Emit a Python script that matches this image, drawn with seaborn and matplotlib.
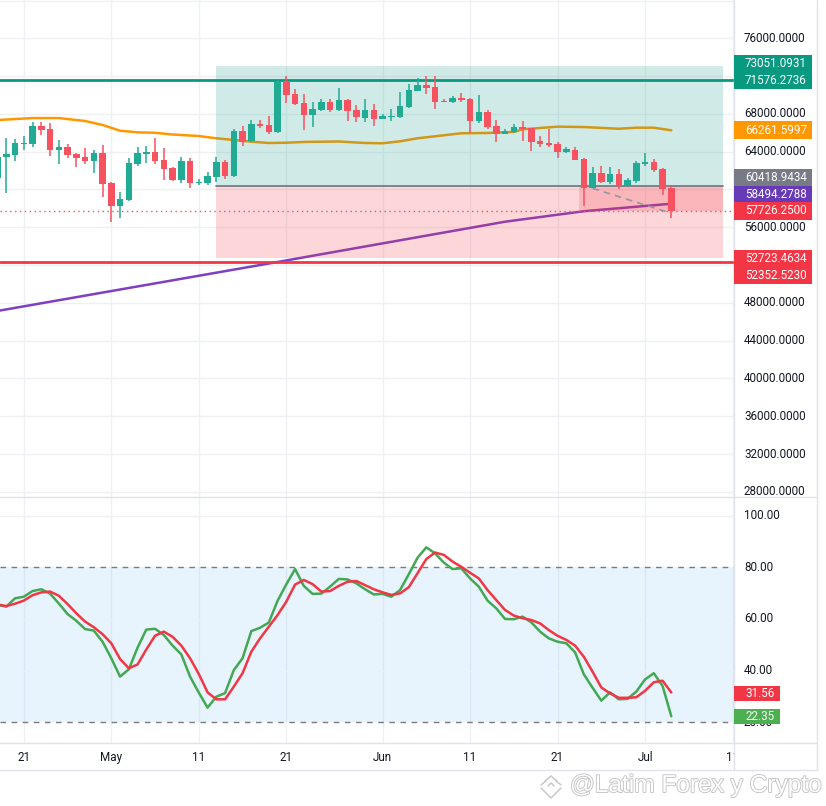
import numpy as np
import pandas as pd
import matplotlib
matplotlib.use("Agg")
import matplotlib.pyplot as plt
import matplotlib.dates as mdates
import matplotlib.patheffects as pe_
from matplotlib.patches import Rectangle
from matplotlib.lines import Line2D
import seaborn as sns

# ---------------- data ----------------
start_date = "2024-04-18"
end_date = "2024-07-04"

opens = [61185, 63408, 63683, 64847, 64847, 66720, 66402, 64212, 64529, 63757,
         63439, 63048, 63863, 60688, 58286, 58921, 62730, 63789, 63968, 63122,
         62275, 61037, 63016, 60720, 60720, 61355, 62910, 61429, 66191, 65101,
         66963, 66825, 66085, 71482, 70106, 69154, 67915, 68445, 69259, 68413,
         69471, 68413, 67598, 68413, 67492, 67704, 67672, 68730, 70455, 71058,
         70847, 69397, 69291, 69683, 69577, 67281, 68201, 66720, 65905, 66085,
         66614, 66508, 65164, 64953, 64815, 63968, 64180, 63228, 60191, 61746,
         60794, 61640, 60370, 60900, 62699, 62910, 62169, 60159]
closes = [63471, 63757, 64921, 64921, 66720, 66328, 64212, 64466, 63683, 63365,
          63048, 63863, 60614, 58286, 58995, 62836, 63863, 63968, 63016, 62169,
          61037, 63016, 60720, 60794, 61429, 62910, 61429, 66191, 65058, 66963,
          66751, 66085, 71513, 70032, 69079, 67915, 68519, 69259, 68413, 69471,
          68307, 67640, 68413, 67460, 67778, 67778, 68836, 70529, 71058, 70773,
          69291, 69291, 69683, 69503, 67249, 68201, 66646, 65905, 66222, 66614,
          66434, 65058, 64847, 64709, 63968, 64254, 63154, 60191, 61746, 60826,
          61640, 60370, 61005, 62805, 62910, 62095, 60085, 57726]
highs = [63900, 65418, 65312, 65661, 67111, 67143, 67005, 65238, 64815, 63894,
         64423, 64180, 64741, 60826, 59767, 63302, 64497, 64635, 65418, 64392,
         62349, 63408, 63333, 61111, 61852, 63408, 63122, 66371, 66720, 67355,
         67355, 67810, 71587, 72011, 70635, 70106, 69291, 69577, 69577, 70741,
         69577, 68942, 69577, 69048, 67958, 68519, 70349, 71132, 71799, 72011,
         72011, 69609, 69894, 70212, 69700, 70000, 68413, 67355, 66402, 66931,
         67249, 66508, 65661, 66434, 65058, 64466, 64466, 63333, 62381, 62487,
         62381, 62169, 61185, 63016, 63863, 63228, 62307, 60445]
lows = [60500, 59598, 63048, 64212, 64529, 65799, 63577, 62730, 63365, 62413,
        62667, 61778, 59175, 56593, 57016, 58815, 62487, 62805, 62667, 61005,
        60900, 60656, 60191, 60508, 60508, 60826, 61143, 61323, 64635, 64995,
        66540, 65873, 66011, 69185, 68910, 66296, 66646, 68307, 68233, 68339,
        67281, 67175, 67175, 66751, 67429, 67249, 67598, 68656, 70423, 70138,
        68550, 69228, 69185, 69228, 65979, 67005, 66371, 65058, 65873, 65979,
        65132, 64106, 64529, 64529, 63365, 63894, 63122, 58254, 60127, 60688,
        60614, 60053, 60339, 60720, 62487, 61884, 59450, 57016]

stoch_k = [65.4, 64.8, 68.0, 68.6, 70.8, 71.5, 69.8, 66.0, 61.9, 59.3,
           56.1, 55.5, 51.2, 44.8, 37.7, 40.5, 48.9, 55.9, 56.2, 53.8,
           49.7, 46.3, 37.7, 31.5, 25.7, 29.9, 31.3, 40.2, 44.8, 55.3,
           56.6, 58.6, 67.0, 73.4, 79.3, 72.8, 69.7, 69.8, 72.5, 75.5,
           75.3, 73.8, 71.5, 69.5, 69.7, 68.6, 71.2, 77.3, 83.7, 87.7,
           85.4, 81.8, 79.3, 79.6, 75.7, 72.5, 67.1, 64.1, 60.0, 59.9,
           60.9, 58.7, 55.1, 52.5, 51.2, 50.6, 47.1, 38.6, 33.4, 28.4,
           31.6, 28.9, 29.1, 31.9, 36.6, 39.0, 34.1, 22.35]
stoch_d = [65.6, 65.0, 65.9, 67.1, 69.2, 70.3, 70.6, 69.0, 65.8, 62.2,
           59.0, 56.8, 54.1, 50.6, 44.5, 40.9, 42.4, 48.2, 53.5, 55.1,
           53.1, 49.7, 44.8, 38.7, 31.6, 28.9, 28.9, 33.8, 39.0, 47.3,
           52.5, 57.0, 61.5, 66.7, 73.3, 75.1, 73.5, 70.6, 70.8, 72.8,
           74.4, 74.7, 73.1, 71.5, 70.3, 69.3, 69.9, 72.3, 77.7, 83.2,
           85.7, 84.8, 82.2, 80.2, 77.9, 75.7, 71.2, 67.3, 63.5, 61.3,
           60.3, 59.6, 58.3, 55.7, 53.5, 51.9, 49.7, 45.4, 39.6, 33.5,
           31.2, 29.5, 29.5, 29.7, 32.2, 35.5, 36.1, 31.56]

ma50_dates = ["2024-04-18", "2024-04-22", "2024-04-25", "2024-04-28", "2024-04-30",
              "2024-05-02", "2024-05-04", "2024-05-06", "2024-05-08", "2024-05-11",
              "2024-05-13", "2024-05-15", "2024-05-17", "2024-05-19", "2024-05-21",
              "2024-05-23", "2024-05-25", "2024-05-27", "2024-05-30", "2024-06-01",
              "2024-06-03", "2024-06-05", "2024-06-07", "2024-06-10", "2024-06-13",
              "2024-06-16", "2024-06-17", "2024-06-19", "2024-06-21", "2024-06-24",
              "2024-06-28", "2024-06-30", "2024-07-02", "2024-07-04"]
ma50_values = [67350, 67560, 67560, 67250, 66830, 66220, 66050, 66000, 65820, 65660,
               65420, 65240, 65060, 64920, 64950, 65030, 65060, 65080, 64920, 64890,
               65100, 65420, 65630, 65950, 65980, 66090, 66370, 66510, 66650, 66610,
               66430, 66540, 66540, 66261.5997]

ma200_dates = ["2024-04-18", "2024-05-20", "2024-06-15", "2024-06-24", "2024-07-04"]
ma200_values = [47150, 52330, 56590, 57700, 58494.2788]

trend_dates = ["2024-06-25", "2024-07-04"]
trend_values = [60127, 57481]

pos_start = "2024-05-13"
pos_end = "2024-07-09 22:00"
pos_loss_start = "2024-06-23 12:00"
pos_target = 73051.0931
pos_entry = 60418.9434
pos_stop = 52723.4634
resistance = 71576.2736
support = 52352.5230
last_close = 57726.25
ma50_last = 66261.5997
ma200_last = 58494.2788
k_last = 22.35
d_last = 31.56

price_ticks = [76000, 68000, 64000, 56000, 48000, 44000, 40000, 36000, 32000, 28000]
price_grid = [28000, 32000, 36000, 40000, 44000, 48000, 52000, 56000, 60000, 64000,
              68000, 72000, 76000, 80000]
stoch_ticks = [100, 80, 60, 40, 20]
date_ticks = ["2024-04-21", "2024-05-01", "2024-05-11", "2024-05-21", "2024-06-01",
              "2024-06-11", "2024-06-21", "2024-07-01", "2024-07-11"]
date_tick_labels = ["21", "May", "11", "21", "Jun", "11", "21", "Jul", "11"]
watermark = "@Latim Forex y Crypto"

# ---------------- style ----------------
sns.set_theme(style="white")
plt.rcParams['font.family'] = ['Roboto', 'DejaVu Sans']

GREEN = "#22AB94"
RED = "#F7525F"
TEAL = "#089981"
LRED = "#F23645"
ORANGE = "#FF9800"
PURPLE = "#7E3FC2"
GREY = "#787B86"
GRID = "#EEF0F4"
TXT = "#131722"
BORDER = "#E0E3EB"
FS = 8.4

W, H = 826, 806
fig = plt.figure(figsize=(W / 100, H / 100), dpi=100)
fig.patch.set_facecolor("white")


def rect(x0, y0, x1, y1):
    return [x0 / W, 1 - y1 / H, (x1 - x0) / W, (y1 - y0) / H]


ax = fig.add_axes(rect(0, 0, 734, 497))
ax2 = fig.add_axes(rect(0, 497, 734, 743), sharex=ax)
axb = fig.add_axes(rect(0, 743, 734, 770), sharex=ax)
for a in (ax, ax2, axb):
    a.set_facecolor("none")
    for s in a.spines.values():
        s.set_visible(False)
    a.tick_params(left=False, bottom=False, labelleft=False, labelbottom=False)
    a.grid(False)
axb.set_ylim(0, 1)

df = pd.DataFrame({"date": pd.date_range(start_date, end_date, freq="D"),
                   "open": opens, "high": highs, "low": lows, "close": closes,
                   "k": stoch_k, "d": stoch_d})

x_left = pd.Timestamp("2024-04-19") - pd.Timedelta(days=6.3 / 8.75)
x_right = pd.Timestamp("2024-04-19") + pd.Timedelta(days=(734 - 6.3) / 8.75)
ax.set_xlim(x_left, x_right)
ax.set_ylim(27460, 80053)
ax2.set_ylim(12.0, 107.2)

# grid
for t in pd.to_datetime(date_ticks):
    ax.axvline(t, color=GRID, lw=1, zorder=0)
    ax2.axvline(t, color=GRID, lw=1, zorder=0)
for p in price_grid:
    ax.axhline(p, color=GRID, lw=1, zorder=0)
for v in [100, 60, 40]:
    ax2.axhline(v, color=GRID, lw=1, zorder=0.5)

# moving averages (under the position boxes)
sns.lineplot(x=pd.to_datetime(ma50_dates), y=ma50_values, ax=ax, color=ORANGE,
             lw=1.8, zorder=2)
sns.lineplot(x=pd.to_datetime(ma200_dates), y=ma200_values, ax=ax, color=PURPLE,
             lw=1.8, zorder=2)

# position tool
ps = mdates.date2num(pd.Timestamp(pos_start))
pe = mdates.date2num(pd.Timestamp(pos_end))
pl = mdates.date2num(pd.Timestamp(pos_loss_start))
ax.add_patch(Rectangle((ps, pos_entry), pe - ps, pos_target - pos_entry,
                       facecolor=TEAL, alpha=0.19, lw=0, zorder=3))
ax.add_patch(Rectangle((ps, pos_stop), pe - ps, pos_entry - pos_stop,
                       facecolor=LRED, alpha=0.2, lw=0, zorder=3))
ax.add_patch(Rectangle((pl, last_close), pe - pl, pos_entry - last_close,
                       facecolor=LRED, alpha=0.2, lw=0, zorder=3))
ax.plot([ps, pe], [pos_entry, pos_entry], color=GREY, lw=1.3, zorder=3.5)

# horizontal levels
ax.axhline(resistance, color=TEAL, lw=2, zorder=3.6)
ax.axhline(support, color=LRED, lw=2, zorder=3.6)
ax.axhline(last_close, color=RED, lw=1, ls=(0, (1, 2.5)), zorder=3.6)

# trend line
sns.lineplot(x=pd.to_datetime(trend_dates), y=trend_values, ax=ax, color="#9598A1",
             lw=1.2, zorder=3.7, linestyle=(0, (4, 3)))

# candles
up = df["close"] >= df["open"]
cols = np.where(up, GREEN, RED)
ax.vlines(df["date"], df["low"], df["high"], colors=cols, lw=1.1, zorder=4)
body_h = np.maximum((df["close"] - df["open"]).abs(), 80)
ax.bar(df["date"], body_h, bottom=np.minimum(df["open"], df["close"]), width=0.74,
       color=cols, lw=0, zorder=5)

# stoch RSI panel
ax2.axhspan(20, 80, color="#2196F3", alpha=0.1, lw=0, zorder=0.2)
ax2.axhline(80, color=GREY, lw=1, ls=(0, (4, 4)), zorder=1)
ax2.axhline(20, color=GREY, lw=1, ls=(0, (4, 4)), zorder=1)
sns.lineplot(data=df, x="date", y="k", ax=ax2, color="#43A853", lw=1.8, zorder=3)
sns.lineplot(data=df, x="date", y="d", ax=ax2, color=LRED, lw=1.8, zorder=4)
for a in (ax, ax2):
    a.set_xlabel("")
    a.set_ylabel("")

# x axis labels (clipped at the price scale)
for t, lab in zip(pd.to_datetime(date_ticks), date_tick_labels):
    axb.text(t, 0.48, lab, ha="center", va="center", fontsize=FS, color=TXT,
             clip_on=True)

# separators / borders
for (x0, y0, x1, y1) in [(0, 497, 817, 497), (0, 743, 817, 743), (0, 770, 817, 770),
                         (734, 0, 734, 770), (817, 0, 817, 770)]:
    fig.add_artist(Line2D([x0 / W, x1 / W], [1 - y0 / H, 1 - y1 / H], color=BORDER,
                          lw=1, transform=fig.transFigure))

# right price scale
axr = fig.add_axes(rect(734, 0, 817, 497), sharey=ax)
axr2 = fig.add_axes(rect(734, 497, 817, 743), sharey=ax2)
for a in (axr, axr2):
    a.set_facecolor("none")
    a.axis("off")
    a.set_xlim(0, 83)
for p in price_ticks:
    axr.text(10, p, f"{p:.4f}", ha="left", va="center", fontsize=FS, color=TXT)
for v in stoch_ticks:
    axr2.text(10, v, f"{v:.2f}", ha="left", va="center", fontsize=FS, color=TXT)


def tag(y_px, text, color, x1=812, h=17):
    fig.add_artist(Rectangle((734 / W, 1 - (y_px + h / 2) / H), (x1 - 734) / W, h / H,
                             facecolor=color, lw=0, transform=fig.transFigure, zorder=5))
    fig.text(745 / W, 1 - y_px / H, text, ha="left", va="center", fontsize=FS,
             color="white", zorder=6)


tag(63.5, f"{pos_target:.4f}", TEAL)
tag(80.5, f"{resistance:.4f}", TEAL)
tag(130.0, f"{ma50_last:.4f}", ORANGE)
tag(177.3, f"{pos_entry:.4f}", GREY)
tag(194.3, f"{ma200_last:.4f}", "#673AB7")
tag(211.0, f"{last_close:.4f}", LRED)
tag(259.0, f"{pos_stop:.4f}", LRED)
tag(275.8, f"{support:.4f}", LRED)
tag(693.3, f"{d_last:.2f}", LRED, x1=780, h=15)
tag(716.0, f"{k_last:.2f}", "#4CAF50", x1=780, h=15)

# watermark (outlined text) and logo shape
fig.text(570 / W, 1 - 786 / H, watermark, ha="left", va="center",
         fontsize=17.6, color="white", family=["Liberation Sans", "DejaVu Sans"],
         path_effects=[pe_.Stroke(linewidth=1.3, foreground="#C4C4C4"), pe_.Normal()])
WM = "#C8C8C8"
for xs, ys in [([545, 551, 557], [781, 776, 781]),
               ([541, 546], [785, 781]), ([556, 561], [781, 785]),
               ([548, 551, 554], [786, 783, 786]),
               ([541, 551, 561], [788, 798, 788])]:
    fig.add_artist(Line2D([x / W for x in xs], [1 - y / H for y in ys], color=WM,
                          lw=1.1, transform=fig.transFigure))

fig.savefig("out.png", dpi=100)
